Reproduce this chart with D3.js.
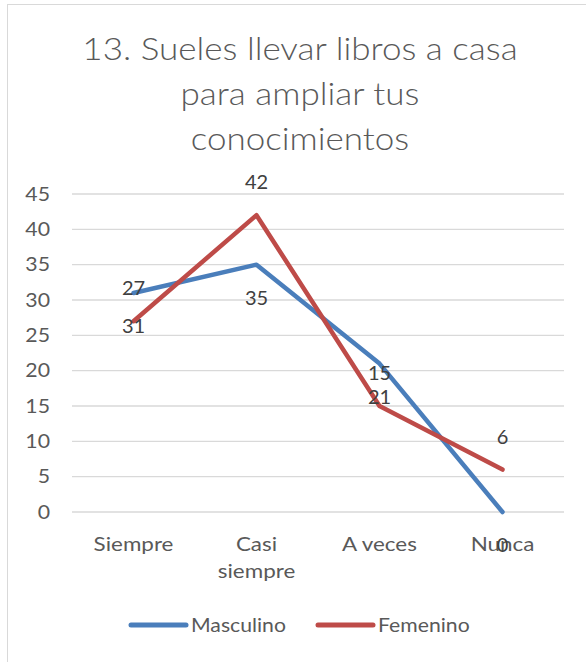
<!DOCTYPE html>
<html>
<head>
<meta charset="utf-8">
<script src="https://cdn.jsdelivr.net/npm/d3@7"></script>
<style>
  body { margin: 0; background: #fff; }
  svg { display: block; font-family: Lato, "Open Sans", sans-serif; }
</style>
</head>
<body>
<div id="chart"></div>
<script>
const categories = ["Siempre", "Casi siempre", "A veces", "Nunca"];
const categoryLines = [["Siempre"], ["Casi", "siempre"], ["A veces"], ["Nunca"]];
const masculino = [31, 35, 21, 0];
const femenino = [27, 42, 15, 6];
// the labels as they appear in the picture (each series shows the other one's values)
const masculinoLabels = [27, 42, 15, 6];
const femeninoLabels = [31, 35, 21, 0];
const yTicks = [0, 5, 10, 15, 20, 25, 30, 35, 40, 45];
const titleLines = ["13. Sueles llevar libros a casa", "para ampliar tus", "conocimientos"];

const W = 586, H = 662;
const plot = {left: 72, right: 564, top: 194, bottom: 512};

// Calibri-like widths: widen the glyphs a little
function stretch(sel, k) {
  sel.each(function() {
    const w = this.getComputedTextLength();
    d3.select(this)
      .attr("textLength", w * k)
      .attr("lengthAdjust", "spacingAndGlyphs");
  });
}

const svg = d3.select("#chart").append("svg")
  .attr("width", W)
  .attr("height", H);

// chart frame
svg.append("rect")
  .attr("x", 7.5).attr("y", 4.5)
  .attr("width", W + 20).attr("height", H + 20)
  .attr("fill", "#fff")
  .attr("stroke", "#d9d9d9")
  .attr("stroke-width", 1);

// title
const title = svg.append("g").selectAll("text")
  .data(titleLines)
  .join("text")
    .attr("x", 300)
    .attr("y", (d, i) => 60 + i * 45)
    .attr("text-anchor", "middle")
    .attr("fill", "#595959")
    .style("font-size", "31px")
    .style("font-weight", 300)
    .text(d => d);
stretch(title, 1.13);

const x = d3.scaleBand()
  .domain(categories)
  .range([plot.left, plot.right])
  .padding(0);
const cx = d => x(d) + x.bandwidth() / 2;

const y = d3.scaleLinear()
  .domain([0, 45])
  .range([plot.bottom, plot.top]);

// gridlines
svg.append("g").selectAll("line")
  .data(yTicks)
  .join("line")
    .attr("x1", plot.left).attr("x2", plot.right)
    .attr("y1", d => y(d)).attr("y2", d => y(d))
    .attr("stroke", "#d9d9d9")
    .attr("stroke-width", 1.3);

// y axis labels
const yAxis = svg.append("g")
  .attr("transform", `translate(${plot.left},0)`)
  .call(d3.axisLeft(y).tickValues(yTicks).tickSize(0).tickPadding(22));
yAxis.select(".domain").remove();
yAxis.selectAll("text")
  .attr("fill", "#595959")
  .style("font-size", "19px")
  .style("font-family", "Lato, sans-serif");
stretch(yAxis.selectAll("text"), 1.12);

// x axis labels
const xAxis = svg.append("g")
  .attr("transform", `translate(0,${plot.bottom})`)
  .call(d3.axisBottom(x).tickSize(0).tickPadding(0).tickFormat(""));
xAxis.select(".domain").remove();
xAxis.selectAll(".tick").each(function(d, i) {
  d3.select(this).selectAll("text.cat")
    .data(categoryLines[i])
    .join("text")
      .attr("class", "cat")
      .attr("x", 0)
      .attr("y", (l, j) => 39 + j * 27)
      .attr("fill", "#595959")
      .attr("text-anchor", "middle")
      .style("font-size", "19px")
      .style("font-family", "Lato, sans-serif")
      .text(l => l);
});
stretch(xAxis.selectAll("text.cat"), 1.18);

const line = d3.line()
  .x((d, i) => cx(categories[i]))
  .y(d => y(d));

const series = [
  {name: "Masculino", values: masculino, color: "#4a7ebb"},
  {name: "Femenino", values: femenino, color: "#be4b48"}
];

series.forEach(s => {
  svg.append("path")
    .datum(s.values)
    .attr("d", line)
    .attr("fill", "none")
    .attr("stroke", s.color)
    .attr("stroke-width", 4.5)
    .attr("stroke-linejoin", "round")
    .attr("stroke-linecap", "round");
});

// data labels (placed like the picture: one row above red, one row below blue)
const labelRows = [
  {values: femenino, labels: masculinoLabels, dy: -33},
  {values: masculino, labels: femeninoLabels, dy: 33}
];
labelRows.forEach(r => {
  svg.append("g").selectAll("text")
    .data(r.values)
    .join("text")
      .attr("x", (d, i) => cx(categories[i]))
      .attr("y", d => y(d) + r.dy)
      .attr("dy", "0.36em")
      .attr("text-anchor", "middle")
      .attr("fill", "#404040")
      .style("font-size", "20px")
      .text((d, i) => r.labels[i]);
});

// legend
const legend = svg.append("g").attr("transform", "translate(0,625)");
const legendItems = [
  {name: "Masculino", color: "#4a7ebb", x: 131},
  {name: "Femenino", color: "#be4b48", x: 318}
];
legendItems.forEach(l => {
  legend.append("line")
    .attr("x1", l.x).attr("x2", l.x + 55)
    .attr("y1", 0).attr("y2", 0)
    .attr("stroke", l.color)
    .attr("stroke-width", 5)
    .attr("stroke-linecap", "round");
  const t = legend.append("text")
    .attr("x", l.x + 60)
    .attr("y", 0)
    .attr("dy", "0.36em")
    .attr("fill", "#595959")
    .style("font-size", "20px")
    .text(l.name);
  stretch(t, 1.06);
});
</script>
</body>
</html>
